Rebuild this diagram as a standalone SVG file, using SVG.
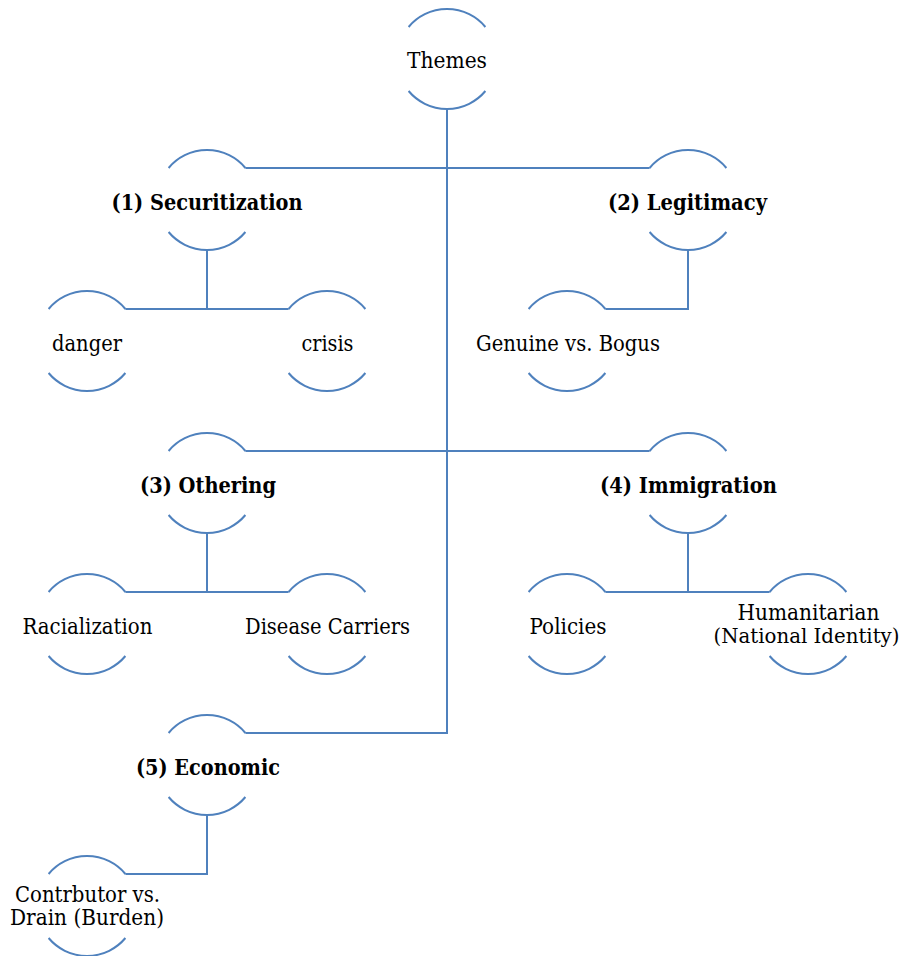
<svg xmlns="http://www.w3.org/2000/svg" xmlns:xlink="http://www.w3.org/1999/xlink" width="905" height="956" viewBox="0 0 905 956">
<style>
.arc{fill:none;stroke:#4F81BD;stroke-width:2}
.ln{fill:none;stroke:#4F81BD;stroke-width:2}
.t{font-family:"DejaVu Serif","Liberation Serif",serif;font-size:22px;fill:#000;text-anchor:middle}
.b{font-family:"DejaVu Serif","Liberation Serif",serif;font-size:21.5px;font-weight:bold;fill:#000;text-anchor:middle}
</style>
<defs>
<path id="ring" class="arc" d="M-38.4,-32 A50,50 0 0 1 38.4,-32 M-38.4,32 A50,50 0 0 0 38.4,32"/>
</defs>
<rect width="905" height="956" fill="#fff"/>
<g id="connectors" class="ln">
<path d="M447,109 V733 H245.4"/>
<path d="M245.4,168 H649.6"/>
<path d="M245.4,451 H649.6"/>
<path d="M207,250 V309 M125.4,309 H288.6"/>
<path d="M688,250 V309 H605.4"/>
<path d="M207,533 V592 M125.4,592 H288.6"/>
<path d="M688,533 V592 M605.4,592 H769.6"/>
<path d="M207,815 V874 H125.4"/>
</g>
<g id="themes"><use xlink:href="#ring" x="447" y="59"/><text class="t" x="447" y="68" textLength="80" lengthAdjust="spacingAndGlyphs">Themes</text></g>
<g id="securitization"><use xlink:href="#ring" x="207" y="200"/><text class="b" x="207" y="209.5" textLength="191" lengthAdjust="spacingAndGlyphs">(1) Securitization</text></g>
<g id="legitimacy"><use xlink:href="#ring" x="688" y="200"/><text class="b" x="687.5" y="209.5" textLength="159" lengthAdjust="spacingAndGlyphs">(2) Legitimacy</text></g>
<g id="danger"><use xlink:href="#ring" x="87" y="341"/><text class="t" x="87" y="350.5" textLength="70" lengthAdjust="spacingAndGlyphs">danger</text></g>
<g id="crisis"><use xlink:href="#ring" x="327" y="341"/><text class="t" x="327.5" y="350.5" textLength="52" lengthAdjust="spacingAndGlyphs">crisis</text></g>
<g id="genuine"><use xlink:href="#ring" x="567" y="341"/><text class="t" x="568" y="350.5" textLength="184" lengthAdjust="spacingAndGlyphs">Genuine vs. Bogus</text></g>
<g id="othering"><use xlink:href="#ring" x="207" y="483"/><text class="b" x="208" y="492.5" textLength="136" lengthAdjust="spacingAndGlyphs">(3) Othering</text></g>
<g id="immigration"><use xlink:href="#ring" x="688" y="483"/><text class="b" x="688.5" y="492.5" textLength="177" lengthAdjust="spacingAndGlyphs">(4) Immigration</text></g>
<g id="racialization"><use xlink:href="#ring" x="87" y="624"/><text class="t" x="87.5" y="633.5" textLength="130" lengthAdjust="spacingAndGlyphs">Racialization</text></g>
<g id="disease"><use xlink:href="#ring" x="327" y="624"/><text class="t" x="327.5" y="633.5" textLength="165" lengthAdjust="spacingAndGlyphs">Disease Carriers</text></g>
<g id="policies"><use xlink:href="#ring" x="567" y="624"/><text class="t" x="568" y="633.5" textLength="77" lengthAdjust="spacingAndGlyphs">Policies</text></g>
<g id="humanitarian"><use xlink:href="#ring" x="808" y="624"/><text class="t" x="808.5" y="620" textLength="142" lengthAdjust="spacingAndGlyphs">Humanitarian</text><text class="t" x="806.5" y="642.5" style="font-size:20px" textLength="186" lengthAdjust="spacingAndGlyphs">(National Identity)</text></g>
<g id="economic"><use xlink:href="#ring" x="207" y="765"/><text class="b" x="208" y="774.5" textLength="144" lengthAdjust="spacingAndGlyphs">(5) Economic</text></g>
<g id="contributor"><use xlink:href="#ring" x="87" y="906"/><text class="t" x="87.5" y="901.5" textLength="145" lengthAdjust="spacingAndGlyphs">Contrbutor vs.</text><text class="t" x="87" y="925" textLength="154" lengthAdjust="spacingAndGlyphs">Drain (Burden)</text></g>
</svg>
